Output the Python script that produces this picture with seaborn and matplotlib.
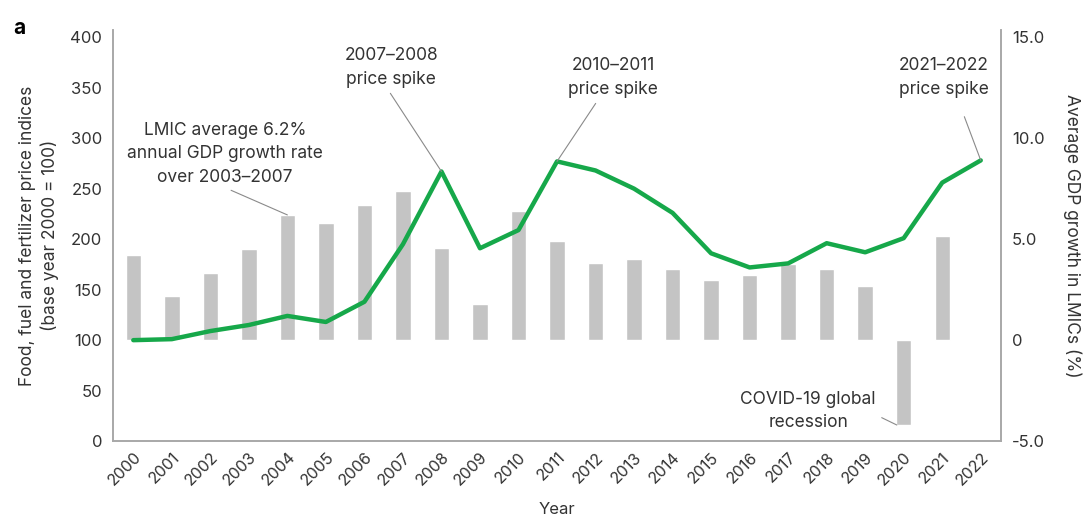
import matplotlib
matplotlib.use("Agg")
import matplotlib.pyplot as plt
import numpy as np
import pandas as pd
import seaborn as sns

YEARS = list(range(2000, 2023))
PRICE_INDEX = [100, 101, 109, 115, 124, 118, 138, 195, 267, 191, 209, 277,
               268, 250, 226, 186, 172, 176, 196, 187, 201, 256, 278]
GDP_YEARS = list(range(2000, 2022))
GDP_GROWTH = [4.2, 2.2, 3.3, 4.5, 6.2, 5.8, 6.7, 7.4, 4.55, 1.8, 6.4, 4.9,
              3.8, 4.0, 3.5, 3.0, 3.25, 3.75, 3.5, 2.7, -4.2, 5.15]

LEFT_TICKS = [0, 50, 100, 150, 200, 250, 300, 350, 400]
RIGHT_TICKS = [-5, 0, 5, 10, 15]
RIGHT_TICK_LABELS = ["-5.0", "0", "5.0", "10.0", "15.0"]

GREEN = "#16a84a"
BAR_GREY = "#c4c4c4"
TEXT = "#333333"
SPINE = "#a8a8a8"

sns.set_style("white")
plt.rcParams["font.family"] = ["Inter", "DejaVu Sans"]
plt.rcParams["text.color"] = TEXT
plt.rcParams["axes.labelcolor"] = TEXT
plt.rcParams["xtick.color"] = TEXT
plt.rcParams["ytick.color"] = TEXT

price_df = pd.DataFrame({"pos": np.arange(len(YEARS)), "price": PRICE_INDEX})
gdp_df = pd.DataFrame({"pos": np.arange(len(GDP_YEARS)), "gdp": GDP_GROWTH})

fig = plt.figure(figsize=(10.89, 5.19), dpi=100)
ax = fig.add_axes([0.104, 0.150, 0.815, 0.792])
ax2 = ax.twinx()

# GDP bars on the right axis, price line on the left axis drawn on top
sns.barplot(data=gdp_df, x="pos", y="gdp", native_scale=True, width=0.4,
            color=BAR_GREY, saturation=1, ax=ax2)
sns.lineplot(data=price_df, x="pos", y="price", color=GREEN, linewidth=3.2,
             ax=ax)

ax.set_zorder(ax2.get_zorder() + 1)
ax.patch.set_visible(False)

ax.set_xlim(-0.52, len(YEARS) - 1 + 0.52)
ax.set_ylim(0, 407)
ax2.set_ylim(-5, 15.35)

ax.set_yticks(LEFT_TICKS)
ax2.set_yticks(RIGHT_TICKS)
ax2.set_yticklabels(RIGHT_TICK_LABELS)
ax.set_xticks(np.arange(len(YEARS)))
ax.set_xticklabels([str(y) for y in YEARS], rotation=45, ha="right",
                   rotation_mode="anchor")

for a in (ax, ax2):
    a.tick_params(axis="both", length=0, labelsize=12, pad=8)
    for side in ("left", "right", "bottom"):
        a.spines[side].set_color(SPINE)
        a.spines[side].set_linewidth(1.2)
    a.spines["top"].set_visible(False)
ax.tick_params(axis="x", pad=6, labelsize=11.5)

ax.set_xlabel("Year", fontsize=12, labelpad=10)
ax.set_ylabel("Food, fuel and fertilizer price indices\n(base year 2000 = 100)",
              fontsize=12.5, labelpad=8, linespacing=1.35)
ax2.set_ylabel("Average GDP growth in LMICs (%)", fontsize=12.5, rotation=270,
               labelpad=26)

conn = dict(arrowstyle="-", color="#8a8a8a", lw=0.8, shrinkA=2, shrinkB=0)
ann_kw = dict(fontsize=12.5, ha="center", va="center", linespacing=1.5,
              color=TEXT)

i04 = GDP_YEARS.index(2004)
ax2.annotate("LMIC average 6.2%\nannual GDP growth rate\nover 2003\u20132007",
             xy=(i04, GDP_GROWTH[i04]), xytext=(2.38, 9.22),
             arrowprops=dict(conn, relpos=(0.48, 0.0)), **ann_kw)

i08 = YEARS.index(2008)
ax.annotate("2007\u20132008\nprice spike", xy=(i08, PRICE_INDEX[i08]),
            xytext=(6.70, 370), arrowprops=dict(conn, relpos=(0.45, 0.0)),
            **ann_kw)

i11 = YEARS.index(2011)
ax.annotate("2010\u20132011\nprice spike", xy=(i11, PRICE_INDEX[i11]),
            xytext=(12.45, 360), arrowprops=dict(conn, relpos=(0.35, 0.0)),
            **ann_kw)

i22 = YEARS.index(2022)
ax.annotate("2021\u20132022\nprice spike", xy=(i22, PRICE_INDEX[i22]),
            xytext=(21.04, 360),
            arrowprops=dict(conn, relpos=(0.65, 0.0), shrinkA=12),
            **ann_kw)

i20 = GDP_YEARS.index(2020)
ax2.annotate("COVID-19 global\nrecession", xy=(i20 - 0.18, GDP_GROWTH[i20]),
             xytext=(17.52, -3.5),
             arrowprops=dict(conn, relpos=(0.97, 0.45)), **ann_kw)

fig.text(0.012, 0.935, "a", fontsize=15, fontweight="bold", color="black")

fig.savefig("out.png", dpi=100)
